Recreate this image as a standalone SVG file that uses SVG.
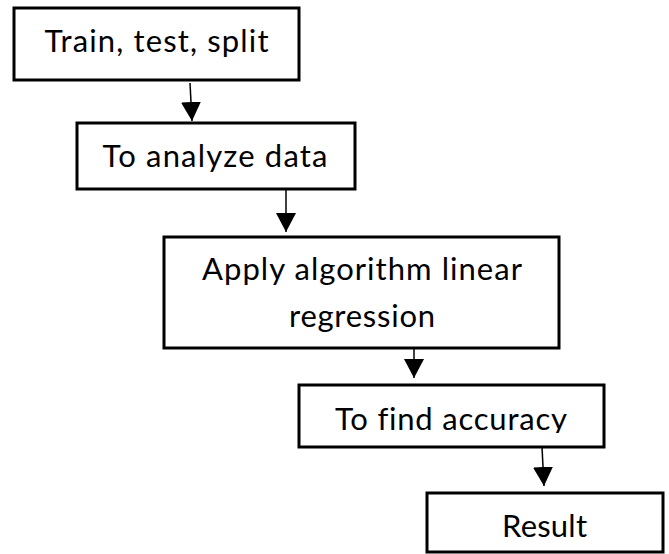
<svg xmlns="http://www.w3.org/2000/svg" width="669" height="554" viewBox="0 0 669 554">
  <style>
    .box { fill: #ffffff; stroke: #000000; stroke-width: 3; }
    .lbl { font-family: Lato, "Open Sans", "Liberation Sans", sans-serif; font-size: 31px; fill: #000000; text-anchor: middle; font-variant-ligatures: none; }
    .conn { stroke: #000000; stroke-width: 1.5; fill: none; marker-end: url(#arrow); }
  </style>
  <defs>
    <marker id="arrow" markerUnits="userSpaceOnUse" markerWidth="20" markerHeight="20" viewBox="0 0 20 20" refX="19" refY="10" orient="auto">
      <path d="M0,0 L19,10 L0,20 Z" fill="#000000"/>
    </marker>
    <clipPath id="clipAcc">
      <rect x="299" y="385" width="305" height="48"/>
    </clipPath>
  </defs>
  <rect width="669" height="554" fill="#ffffff"/>
  <g id="connectors">
    <line class="conn" x1="190" y1="83" x2="192" y2="121"/>
    <line class="conn" x1="286" y1="190" x2="286" y2="232"/>
    <line class="conn" x1="414" y1="348" x2="414" y2="378"/>
    <line class="conn" x1="542" y1="447" x2="544" y2="486"/>
  </g>
  <g id="node-split">
    <rect class="box" x="14" y="8" width="285" height="72"/>
    <text class="lbl" x="156.5" y="52" textLength="224" lengthAdjust="spacing">Train, test, split</text>
  </g>
  <g id="node-analyze">
    <rect class="box" x="77" y="123" width="278" height="66"/>
    <text class="lbl" x="215" y="167" textLength="225" lengthAdjust="spacing">To analyze data</text>
  </g>
  <g id="node-algorithm">
    <rect class="box" x="164" y="237" width="395" height="111"/>
    <text class="lbl" x="362" y="280" textLength="320" lengthAdjust="spacing">Apply algorithm linear</text>
    <text class="lbl" x="362" y="327" textLength="146" lengthAdjust="spacing">regression</text>
  </g>
  <g id="node-accuracy">
    <rect class="box" x="299" y="385" width="305" height="62"/>
    <text class="lbl" x="451" y="430" clip-path="url(#clipAcc)" textLength="232" lengthAdjust="spacing">To find accuracy</text>
  </g>
  <g id="node-result">
    <rect class="box" x="427" y="493" width="236" height="59"/>
    <text class="lbl" x="544.5" y="537" textLength="85" lengthAdjust="spacing">Result</text>
  </g>
</svg>
